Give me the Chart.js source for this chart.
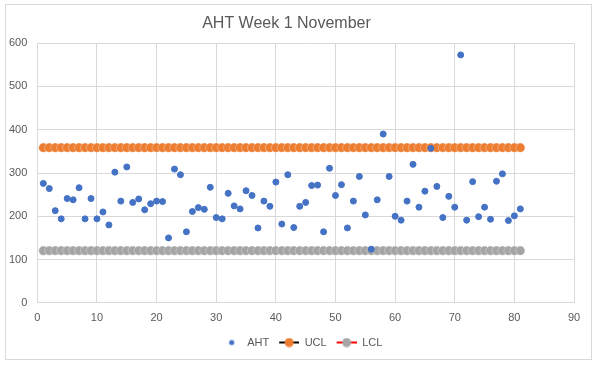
<!DOCTYPE html>
<html>
<head>
<meta charset="utf-8">
<script src="https://cdn.jsdelivr.net/npm/chart.js@4"></script>
<style>
  body { margin: 0; background: #fff; }
  #wrap { width: 600px; height: 365px; }
</style>
</head>
<body>
<div id="wrap"><canvas id="myChart" width="600" height="365"></canvas></div>
<script>
const days = [1, 2, 3, 4, 5, 6, 7, 8, 9, 10, 11, 12, 13, 14, 15, 16, 17, 18, 19, 20,
    21, 22, 23, 24, 25, 26, 27, 28, 29, 30, 31, 32, 33, 34, 35, 36, 37, 38, 39, 40,
    41, 42, 43, 44, 45, 46, 47, 48, 49, 50, 51, 52, 53, 54, 55, 56, 57, 58, 59, 60,
    61, 62, 63, 64, 65, 66, 67, 68, 69, 70, 71, 72, 73, 74, 75, 76, 77, 78, 79, 80, 81];

const aht = [276, 264, 213, 194, 241, 238, 266, 194, 241, 194, 210, 180, 302, 235, 314, 232, 240, 215, 229, 235,
    234, 150, 309, 296, 164, 211, 220, 216, 267, 197, 194, 253, 224, 217, 259, 248, 173, 235, 223, 279,
    182, 296, 174, 223, 232, 271, 272, 164, 311, 248, 273, 173, 235, 292, 203, 124, 238, 390, 292, 200,
    191, 235, 320, 221, 258, 357, 269, 197, 246, 221, 573, 191, 280, 199, 221, 193, 281, 298, 190, 201, 217];

// control limits are flat for the whole week
const ucl = [358.6, 358.6, 358.6, 358.6, 358.6, 358.6, 358.6, 358.6, 358.6, 358.6, 358.6, 358.6, 358.6, 358.6, 358.6, 358.6, 358.6, 358.6, 358.6, 358.6,
    358.6, 358.6, 358.6, 358.6, 358.6, 358.6, 358.6, 358.6, 358.6, 358.6, 358.6, 358.6, 358.6, 358.6, 358.6, 358.6, 358.6, 358.6, 358.6, 358.6,
    358.6, 358.6, 358.6, 358.6, 358.6, 358.6, 358.6, 358.6, 358.6, 358.6, 358.6, 358.6, 358.6, 358.6, 358.6, 358.6, 358.6, 358.6, 358.6, 358.6,
    358.6, 358.6, 358.6, 358.6, 358.6, 358.6, 358.6, 358.6, 358.6, 358.6, 358.6, 358.6, 358.6, 358.6, 358.6, 358.6, 358.6, 358.6, 358.6, 358.6, 358.6];

const lcl = [120.5, 120.5, 120.5, 120.5, 120.5, 120.5, 120.5, 120.5, 120.5, 120.5, 120.5, 120.5, 120.5, 120.5, 120.5, 120.5, 120.5, 120.5, 120.5, 120.5,
    120.5, 120.5, 120.5, 120.5, 120.5, 120.5, 120.5, 120.5, 120.5, 120.5, 120.5, 120.5, 120.5, 120.5, 120.5, 120.5, 120.5, 120.5, 120.5, 120.5,
    120.5, 120.5, 120.5, 120.5, 120.5, 120.5, 120.5, 120.5, 120.5, 120.5, 120.5, 120.5, 120.5, 120.5, 120.5, 120.5, 120.5, 120.5, 120.5, 120.5,
    120.5, 120.5, 120.5, 120.5, 120.5, 120.5, 120.5, 120.5, 120.5, 120.5, 120.5, 120.5, 120.5, 120.5, 120.5, 120.5, 120.5, 120.5, 120.5, 120.5, 120.5];

const xTicks = [0, 10, 20, 30, 40, 50, 60, 70, 80, 90];
const yTicks = [0, 100, 200, 300, 400, 500, 600];

const toPoints = (ys) => days.map((d, i) => ({ x: d, y: ys[i] }));

// legend swatch: marker with the series line through it, 7px blank on the left as item gap
function swatch(lineColor, dotColor, r) {
    const c = document.createElement('canvas');
    c.width = 27;
    c.height = 10;
    const g = c.getContext('2d');
    if (lineColor) {
        g.strokeStyle = lineColor;
        g.lineWidth = 2;
        g.beginPath();
        g.moveTo(7, 5);
        g.lineTo(27, 5);
        g.stroke();
    }
    g.fillStyle = dotColor;
    g.beginPath();
    g.arc(17, 5, r, 0, Math.PI * 2);
    g.fill();
    return c;
}

const frame = {
    id: 'frame',
    afterLayout(chart) {
        // right padding is only there for the plot; centre the legend on the canvas
        chart.legend.left += 12;
        chart.legend.right += 12;
    },
    beforeDraw(chart) {
        const g = chart.ctx;
        g.save();
        g.fillStyle = '#fff';
        g.fillRect(0, 0, chart.width, chart.height);
        g.strokeStyle = '#d9d9d9';
        g.lineWidth = 1;
        g.strokeRect(5.5, 4.5, 586, 355);
        g.restore();
    }
};

const tickFont = { family: 'Liberation Sans', size: 11 };

const ctx = document.getElementById('myChart').getContext('2d');
const chart = new Chart(ctx, {
    type: 'scatter',
    data: {
        datasets: [{
            label: 'AHT',
            data: toPoints(aht),
            backgroundColor: '#4472C4',
            borderColor: '#4472C4',
            pointRadius: 3,
            legendStyle: swatch(null, '#4472C4', 2.6)
        }, {
            label: 'UCL',
            data: toPoints(ucl),
            showLine: true,
            borderColor: '#000',
            borderWidth: 2,
            pointBackgroundColor: '#ED7D31',
            pointBorderColor: 'rgba(255,255,255,0.5)',
            pointBorderWidth: 0.6,
            pointRadius: 4.6,
            legendStyle: swatch('#000', '#ED7D31', 4.5)
        }, {
            label: 'LCL',
            data: toPoints(lcl),
            showLine: true,
            borderColor: '#FF0000',
            borderWidth: 2,
            pointBackgroundColor: '#A5A5A5',
            pointBorderColor: 'rgba(255,255,255,0.5)',
            pointBorderWidth: 0.6,
            pointRadius: 4.6,
            legendStyle: swatch('#FF0000', '#A5A5A5', 4.5)
        }]
    },
    options: {
        responsive: false,
        animation: false,
        layout: {
            padding: { left: -1, right: 26, top: 4, bottom: 7 }
        },
        scales: {
            x: {
                type: 'linear',
                min: 0,
                max: 90,
                afterBuildTicks: (axis) => { axis.ticks = xTicks.map(v => ({ value: v })); },
                ticks: { color: '#595959', font: tickFont, padding: 9 },
                grid: { color: '#d9d9d9', tickLength: 0 },
                border: { color: '#d9d9d9' }
            },
            y: {
                min: 0,
                max: 600,
                afterBuildTicks: (axis) => { axis.ticks = yTicks.map(v => ({ value: v })); },
                ticks: { color: '#595959', font: tickFont, padding: 10 },
                grid: { color: '#d9d9d9', tickLength: 0 },
                border: { display: false }
            }
        },
        plugins: {
            title: {
                display: true,
                text: 'AHT Week 1 November',
                color: '#595959',
                font: { family: 'Liberation Sans', size: 16, weight: 'normal' },
                padding: { top: 10, bottom: 10 }
            },
            legend: {
                position: 'bottom',
                labels: {
                    color: '#595959',
                    font: tickFont,
                    usePointStyle: true,
                    pointStyleWidth: 27,
                    boxHeight: 10,
                    padding: 3,
                    generateLabels: (ch) => ch.data.datasets.map((ds, i) => ({
                        text: ds.label,
                        pointStyle: ds.legendStyle,
                        fillStyle: 'transparent',
                        strokeStyle: 'transparent',
                        lineWidth: 0,
                        fontColor: '#595959',
                        datasetIndex: i
                    }))
                }
            },
            tooltip: { enabled: false }
        }
    },
    plugins: [frame]
});
</script>
</body>
</html>
